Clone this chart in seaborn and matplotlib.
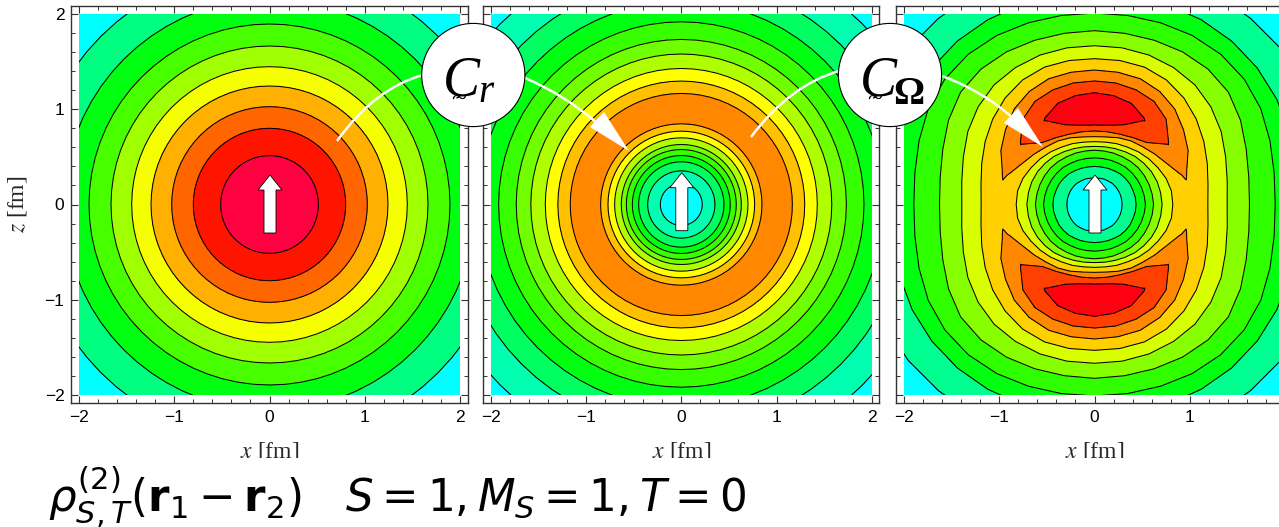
import numpy as np
import seaborn as sns
import matplotlib
matplotlib.use("Agg")
import matplotlib.pyplot as plt
from matplotlib.patches import Circle, Polygon, PathPatch, Rectangle
from matplotlib.path import Path
from matplotlib.ticker import MultipleLocator

W, H = 1279, 527
SCALE = 95.25
CENTRES = [269.5, 681.3, 1094.5]
CY = 204.5

levels = [0, 1, 2, 3, 4, 5, 6, 7, 8, 9, 10]
major_ticks = [-2, -1, 0, 1, 2]
tick_labels = ["\u22122", "\u22121", "0", "1", "2"]

# band colours, from lowest level to highest
colors_a = ["#00FFFF", "#00FF80", "#00FF10", "#48FF00", "#A0FF00",
            "#F5FF00", "#FFB000", "#FF6600", "#FF1400", "#FF0040"]
colors_b = ["#00FFFF", "#00FFB0", "#00FF60", "#00FF10", "#38FF00",
            "#70FF00", "#B0FF00", "#FFFF00", "#FFC000", "#FF8800"]
colors_c = ["#00FFFF", "#00FF90", "#00FF10", "#30FF00", "#88FF00",
            "#D8FF00", "#FFD000", "#FF8800", "#FF4000", "#FF0010"]

# left panel, radial profile read from the rings
r_a = [0, 0.513, 0.80, 1.027, 1.244, 1.447, 1.664, 1.895, 2.16, 2.50, 3.0]
v_a = [9.5, 9, 8, 7, 6, 5, 4, 3, 2, 1, 0.5]

# middle panel, radial profile
r_b = [0, 0.22, 0.353, 0.448, 0.514, 0.577, 0.63, 0.70, 0.77, 0.847, 1.0,
       1.166, 1.296, 1.428, 1.58, 1.733, 1.918, 2.13, 2.37, 2.685, 3.0]
v_b = [0.5, 1, 2, 3, 4, 5, 6, 7, 8, 9, 9.5,
       9, 8, 7, 6, 5, 4, 3, 2, 1, 0.5]

# right panel, not round: radii read along rays 0..90 deg from the x axis
angles_c = [0, 10, 20, 30, 40, 50, 60, 70, 80, 90]
# levels 1 to 6 going out from the centre
inner_c = [[.29, .437, .535, .62, .71, .822],
           [.29, .435, .53, .615, .705, .82],
           [.29, .43, .525, .61, .70, .80],
           [.29, .43, .52, .605, .69, .77],
           [.29, .425, .515, .60, .675, .745],
           [.29, .42, .51, .59, .66, .72],
           [.285, .41, .50, .58, .64, .695],
           [.285, .405, .495, .575, .625, .68],
           [.28, .40, .49, .57, .615, .665],
           [.28, .40, .49, .57, .61, .66]]
# the ridge between them, radii and values
ridge_r_c = [[.88, .93, .97, 1.0, 1.04, 1.09, 1.14],
             [.88, .93, .98, 1.01, 1.05, 1.10, 1.16],
             [.95, .975, .985, .99, .995, 1.01, 1.03],
             [.87, .93, .97, 1.0, 1.03, 1.07, 1.135],
             [.825, .985, .995, 1.0, 1.005, 1.015, 1.22],
             [.79, .85, .92, 1.0, 1.08, 1.17, 1.31],
             [.77, .81, 1.015, 1.03, 1.045, 1.25, 1.37],
             [.745, .785, .89, 1.0, 1.13, 1.28, 1.405],
             [.72, .775, .845, 1.0, 1.16, 1.295, 1.41],
             [.712, .772, .835, 1.0, 1.174, 1.297, 1.412]]
ridge_v_c = [[6.2, 6.4, 6.5, 6.6, 6.5, 6.4, 6.2],
             [6.3, 6.5, 6.7, 6.8, 6.7, 6.5, 6.3],
             [7, 7.08, 7.14, 7.2, 7.14, 7.08, 7],
             [7, 7.3, 7.5, 7.6, 7.5, 7.3, 7],
             [7, 8, 8.02, 8.05, 8.02, 8, 7],
             [7, 8, 8.3, 8.6, 8.3, 8, 7],
             [7, 8, 9, 9.05, 9, 8, 7],
             [7, 8, 9, 9.5, 9, 8, 7],
             [7, 8, 9, 9.5, 9, 8, 7],
             [7, 8, 9, 9.5, 9, 8, 7]]
# levels 6 down to 1 going out to the corners
outer_c = [[1.19, 1.393, 1.627, 1.897, 2.15, 2.5],
           [1.21, 1.415, 1.645, 1.915, 2.16, 2.51],
           [1.26, 1.465, 1.695, 1.96, 2.18, 2.52],
           [1.325, 1.535, 1.77, 2.015, 2.21, 2.54],
           [1.395, 1.595, 1.835, 2.05, 2.23, 2.55],
           [1.46, 1.64, 1.855, 2.06, 2.24, 2.55],
           [1.51, 1.66, 1.85, 2.05, 2.24, 2.55],
           [1.535, 1.67, 1.835, 2.03, 2.235, 2.55],
           [1.535, 1.67, 1.825, 2.015, 2.23, 2.55],
           [1.531, 1.667, 1.825, 2.01, 2.23, 2.55]]


def round_mesh(r, v):
    th = np.radians(np.arange(0, 361, 5))
    r = np.array(r)
    return np.outer(np.cos(th), r), np.outer(np.sin(th), r), np.tile(v, (len(th), 1))


def mirror(m):
    half = np.vstack([m, m[-2::-1]])
    return np.vstack([half, half[-2::-1]])


def quadrant_mesh():
    n = len(angles_c)
    rr = np.hstack([np.zeros((n, 1)), inner_c, ridge_r_c, outer_c, np.full((n, 1), 3.0)])
    vv = np.hstack([np.full((n, 1), 0.5),
                    np.tile([1, 2, 3, 4, 5, 6], (n, 1)),
                    ridge_v_c,
                    np.tile([6, 5, 4, 3, 2, 1], (n, 1)),
                    np.full((n, 1), 0.5)])
    # rays all the way round, the table repeated mirrored in each quadrant
    a = np.radians(angles_c)
    a = np.concatenate([a, np.pi - a[-2::-1]])
    a = np.concatenate([a, 2 * np.pi - a[-2::-1]])[:, None]
    rr, vv = mirror(rr), mirror(vv)
    return rr * np.cos(a), rr * np.sin(a), vv


sns.set_theme(style="ticks")
plt.rcParams["font.family"] = ["Liberation Sans", "DejaVu Sans"]
plt.rcParams["axes.edgecolor"] = "#333333"

fig = plt.figure(figsize=(W / 100, H / 100), dpi=100, facecolor="white")

meshes = [round_mesh(r_a, v_a), round_mesh(r_b, v_b), quadrant_mesh()]
palettes = [colors_a, colors_b, colors_c]

for i, (cx, mesh, pal) in enumerate(zip(CENTRES, meshes, palettes)):
    ext = 2.08 * SCALE
    ax = fig.add_axes([(cx - ext) / W, (H - CY - ext) / H, 2 * ext / W, 2 * ext / H])
    x, z, v = mesh
    clip = Rectangle((-2, -2), 4, 4, transform=ax.transData)
    cf = ax.contourf(x, z, v, levels=levels, colors=sns.color_palette(pal))
    cl = ax.contour(x, z, v, levels=levels[1:-1], colors="black", linewidths=0.75)
    cf.set_clip_path(clip)
    cl.set_clip_path(clip)
    ax.set_xlim(-2.08, 2.08)
    ax.set_ylim(-2.08, 2.08)
    ax.set_aspect("equal")
    ax.set_xticks(major_ticks)
    ax.set_xticklabels(tick_labels)
    ax.set_yticks(major_ticks)
    ax.set_yticklabels(tick_labels)
    ax.xaxis.set_minor_locator(MultipleLocator(0.2))
    ax.yaxis.set_minor_locator(MultipleLocator(0.2))
    ax.tick_params(which="major", direction="in", length=5.2, width=0.8, color="#333333",
                   top=True, right=True, labelsize=12.5, pad=5, labelcolor="black",
                   labelleft=i == 0)
    ax.tick_params(which="minor", direction="in", length=2.6, width=0.7, color="#333333",
                   top=True, right=True)
    for s in ax.spines.values():
        s.set_linewidth(1.0)
    ax.set_xlabel(r"$x$ [fm]", family="Liberation Serif", math_fontfamily="stix",
                  fontsize=17, labelpad=11)
    if i == 0:
        ax.set_ylabel(r"$z$ [fm]", family="Liberation Serif", math_fontfamily="stix",
                      fontsize=17, labelpad=11)

# overlay in picture pixels for the callouts and the formula
ov = fig.add_axes([0, 0, 1, 1], zorder=5)
ov.set_xlim(0, W)
ov.set_ylim(H, 0)
ov.axis("off")
ov.patch.set_alpha(0)

ov.add_patch(Rectangle((0, 458), W, H - 458, facecolor="white", edgecolor="none"))


def curve(p0, p1, p2, color="white", lw=1.8, z=3):
    path = Path([p0, p1, p2], [Path.MOVETO, Path.CURVE3, Path.CURVE3])
    ov.add_patch(PathPatch(path, facecolor="none", edgecolor=color, linewidth=lw, zorder=z))


curve((337, 141), (375, 88), (423, 75))
curve((751, 137), (790, 85), (839, 71))
curve((525, 78), (565, 95), (597, 123))
curve((942, 76), (985, 92), (1015, 120))
ov.add_patch(Polygon([(629, 151), (590, 127), (604, 112)], facecolor="white", edgecolor="none", zorder=3))
ov.add_patch(Polygon([(1043, 147), (1004, 123), (1018, 108)], facecolor="white", edgecolor="none", zorder=3))

for cx, tip in zip(CENTRES, [175, 172.7, 175]):
    cx = cx + 0.5
    ov.add_patch(Polygon([(cx, tip), (cx + 12, tip + 15), (cx + 6, tip + 15), (cx + 6, tip + 58),
                          (cx - 6, tip + 58), (cx - 6, tip + 15), (cx - 12, tip + 15)],
                         facecolor="white", edgecolor="black", linewidth=0.6, zorder=3))

for cx, sub, sub_x, sub_y, sub_kw in [
        (473.3, "r", 478, 102, dict(style="italic")),
        (890, "\u03a9", 893, 104, dict(weight="bold"))]:
    ov.add_patch(Circle((cx, 75), 51.6, facecolor="white", edgecolor="black", linewidth=0.8, zorder=4))
    ov.text(cx - 30, 95, "C", family="Liberation Serif", style="italic", fontsize=40,
            ha="left", va="baseline", color="black", zorder=5)
    curve((cx - 14, 94), (cx - 12, 97), (cx - 17, 98), color="black", lw=0.9, z=5)
    ov.text(cx - 15, 107, "~", family="Liberation Serif", fontsize=20,
            ha="center", va="baseline", color="black", zorder=5)
    ov.text(sub_x, sub_y, sub, family="Liberation Serif", fontsize=28,
            ha="left", va="baseline", color="black", zorder=5, **sub_kw)

ov.text(48, 512, r"$\rho_{S,T}^{(2)}(\mathbf{r}_1-\mathbf{r}_2)\quad S=1, M_S=1, T=0$",
        family="DejaVu Sans", math_fontfamily="dejavusans", fontsize=31.4,
        ha="left", va="baseline", color="black", zorder=6)

fig.savefig("out.png", dpi=100)
